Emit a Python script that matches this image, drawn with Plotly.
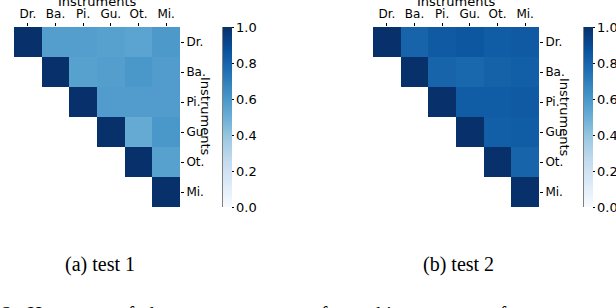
import plotly.graph_objects as go

W, H = 616, 308

instruments = ["Dr.", "Ba.", "Pi.", "Gu", "Ot.", "Mi."]
x_labels = ["Dr.", "Ba.", "Pi.", "Gu.", "Ot.", "Mi."]

# upper-triangle values (row i, columns i..5); lower triangle left blank
test1_rows = [
    [1.00, 0.57, 0.57, 0.56, 0.55, 0.59],
    [1.00, 0.56, 0.57, 0.60, 0.58],
    [1.00, 0.58, 0.58, 0.58],
    [1.00, 0.52, 0.60],
    [1.00, 0.56],
    [1.00],
]
test2_rows = [
    [1.00, 0.80, 0.84, 0.85, 0.83, 0.84],
    [1.00, 0.80, 0.79, 0.81, 0.82],
    [1.00, 0.83, 0.83, 0.84],
    [1.00, 0.82, 0.83],
    [1.00, 0.80],
    [1.00],
]
cbar_ticks = [0.0, 0.2, 0.4, 0.6, 0.8, 1.0]
captions = ["(a) test 1", "(b) test 2"]
bottom_caption = "2:&nbsp;&nbsp;Heatmaps&nbsp;&nbsp;of&nbsp;&nbsp;the&nbsp;&nbsp;average&nbsp;&nbsp;scores&nbsp;&nbsp;of&nbsp;&nbsp;matching&nbsp;&nbsp;vectors&nbsp;&nbsp;of"

blues = [
    [0.0, "#f7fbff"], [0.125, "#deebf7"], [0.25, "#c6dbef"],
    [0.375, "#9ecae1"], [0.5, "#6baed6"], [0.625, "#4292c6"],
    [0.75, "#2171b5"], [0.875, "#08519c"], [1.0, "#08306b"],
]


def full_matrix(rows):
    n = len(rows)
    return [[None] * (n - len(r)) + r for r in rows]


def px(v):
    return v / W


def py(v):
    return 1 - v / H


fig = go.Figure()

panels = [
    dict(rows=test1_rows, x0=14, x1=180, cbx=223, xa="x", ya="y", cap_x=100),
    dict(rows=test2_rows, x0=373, x1=539, cbx=584, xa="x2", ya="y2", cap_x=458),
]
top, bottom = 27, 207
font = "DejaVu Sans"

for i, p in enumerate(panels):
    fig.add_trace(go.Heatmap(
        z=full_matrix(p["rows"]),
        x=x_labels, y=instruments,
        colorscale=blues, zmin=0, zmax=1,
        xaxis=p["xa"], yaxis=p["ya"],
        hoverongaps=False,
        colorbar=dict(
            x=px(p["cbx"]), xanchor="left", xref="paper",
            y=py((top + bottom) / 2), yanchor="middle",
            len=bottom - top, lenmode="pixels",
            thickness=9, thicknessmode="pixels",
            outlinewidth=0,
            tickvals=cbar_ticks, ticktext=[f"{t:.1f}" for t in cbar_ticks],
            ticks="outside", ticklen=2, tickcolor="black",
            tickfont=dict(family=font, size=13, color="black"),
            ypad=0, xpad=0,
        ),
    ))
    sfx = "" if i == 0 else "2"
    fig.update_layout(**{
        "xaxis" + sfx: dict(
            domain=[px(p["x0"]), px(p["x1"])], side="top",
            anchor="y" + sfx, showgrid=False, zeroline=False,
            ticks="outside", ticklen=3, tickcolor="black",
            tickfont=dict(family=font, size=12, color="black"),
            showline=False, fixedrange=True, automargin=False,
        ),
        "yaxis" + sfx: dict(
            domain=[py(bottom), py(top)], side="right",
            anchor="x" + sfx, autorange="reversed",
            showgrid=False, zeroline=False,
            ticks="outside", ticklen=3, tickcolor="black",
            tickfont=dict(family=font, size=12, color="black"),
            showline=False, fixedrange=True, automargin=False,
        ),
    })
    # x-axis title on top (cut at the top edge as in the reference)
    fig.add_annotation(
        text="Instruments", xref="paper", yref="paper",
        x=px((p["x0"] + p["x1"]) / 2), y=py(1), xanchor="center", yanchor="middle",
        showarrow=False, font=dict(family=font, size=13, color="black"),
    )
    # y-axis title, reading downwards
    fig.add_annotation(
        text="Instruments", xref="paper", yref="paper",
        x=px(p["x1"] + 26), y=py((top + bottom) / 2), xanchor="center", yanchor="middle",
        textangle=90, showarrow=False, font=dict(family=font, size=13, color="black"),
    )
    # colorbar left edge line
    fig.add_shape(type="line", xref="paper", yref="paper",
                  x0=px(p["cbx"]), x1=px(p["cbx"]), y0=py(bottom), y1=py(top),
                  line=dict(color="black", width=1))
    fig.add_annotation(
        text=captions[i], xref="paper", yref="paper",
        x=px(p["cap_x"]), y=py(264), xanchor="center", yanchor="middle",
        showarrow=False, font=dict(family="Liberation Serif", size=20, color="black"),
    )

fig.add_annotation(
    text=bottom_caption, xref="paper", yref="paper",
    x=px(0), y=py(314), xanchor="left", yanchor="middle",
    showarrow=False, font=dict(family="Liberation Serif", size=20, color="black"),
)

fig.update_layout(
    width=W, height=H,
    margin=dict(l=0, r=0, t=0, b=0, autoexpand=False),
    paper_bgcolor="white", plot_bgcolor="white",
    showlegend=False,
)

fig.write_html(
    "out.html",
    config={"displayModeBar": False},
    post_script="document.body.style.margin='0';document.body.style.padding='0';document.body.style.overflow='hidden';",
)
